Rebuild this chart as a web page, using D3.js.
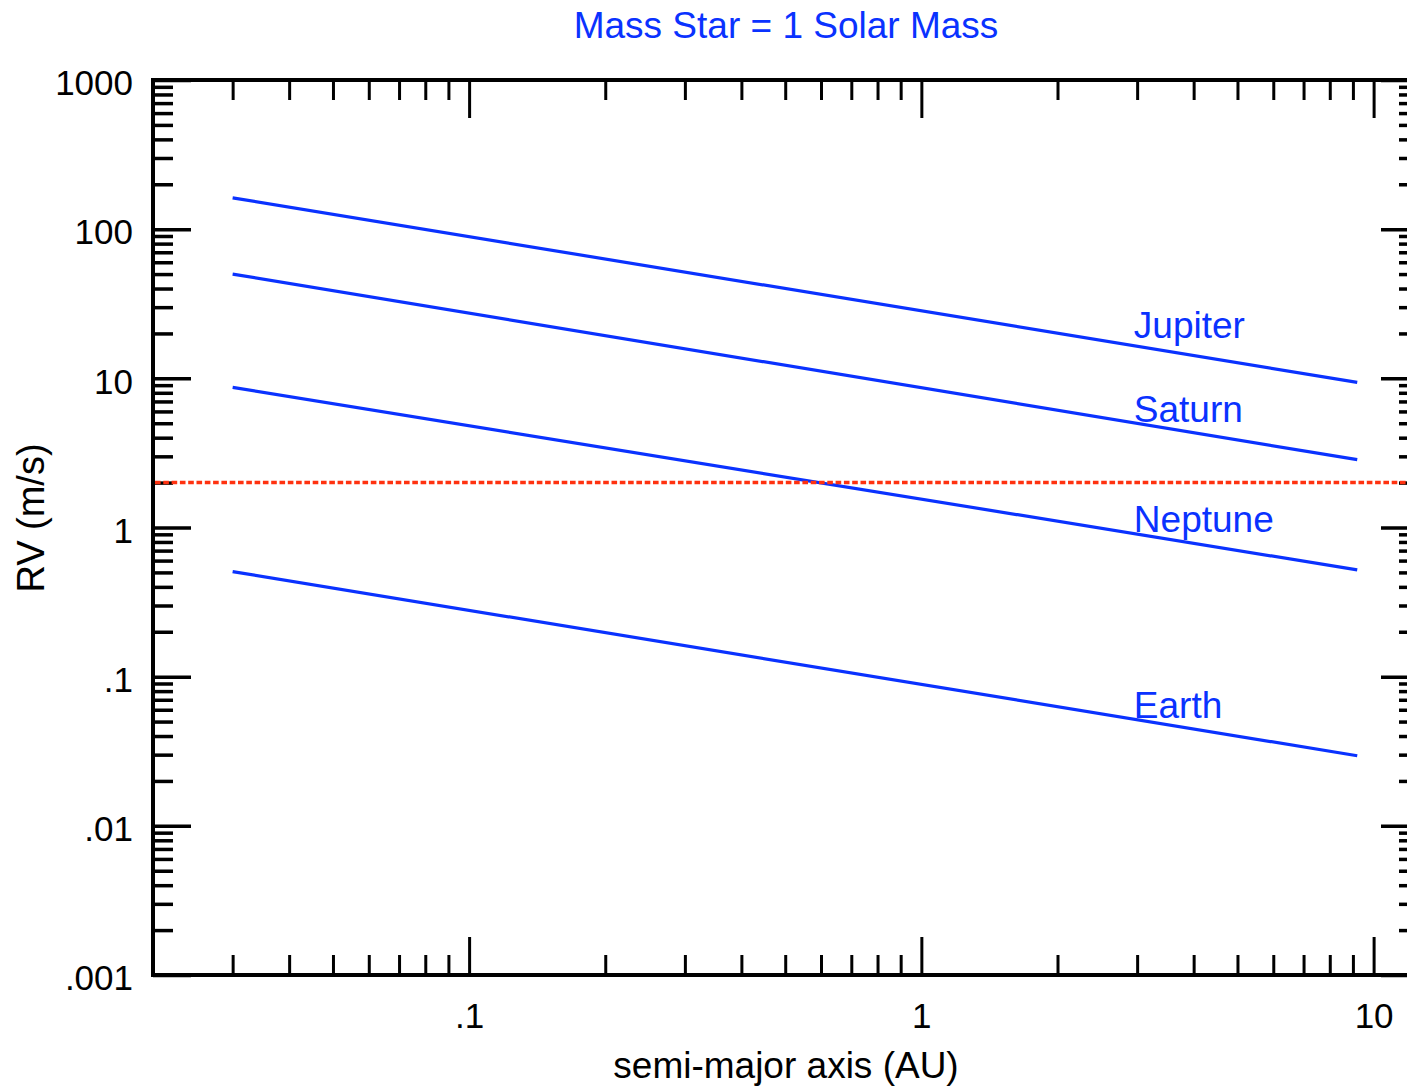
<!DOCTYPE html>
<html>
<head>
<meta charset="utf-8">
<script src="https://cdn.jsdelivr.net/npm/d3@7"></script>
<style>
  html, body { margin: 0; padding: 0; background: #fff; }
  svg { display: block; }
  text { font-family: "Liberation Sans", Arial, Helvetica, sans-serif; }
</style>
</head>
<body>
<script>
// Radial-velocity semi-amplitude vs. semi-major axis for solar-system planets
const planets = ["Jupiter", "Saturn", "Neptune", "Earth"];
// semi-major axis (AU) at the start and end of each curve
const aRange = [0.03, 9.2];
// RV (m/s) at those two semi-major axes
const rvJupiter = [162, 9.4];
const rvSaturn = [50, 2.85];
const rvNeptune = [8.7, 0.52];
const rvEarth = [0.506, 0.0295];
// detection threshold (m/s)
const rvLimit = 2;
// where the planet names sit along each curve (AU)
const labelA = 2.95;

const xTickValues = [0.1, 1, 10];
const xTickLabels = [".1", "1", "10"];
const yTickValues = [1000, 100, 10, 1, 0.1, 0.01, 0.001];
const yTickLabels = ["1000", "100", "10", "1", ".1", ".01", ".001"];

const titleText = "Mass Star = 1 Solar Mass";
const xTitle = "semi-major axis (AU)";
const yTitle = "RV (m/s)";

const series = [rvJupiter, rvSaturn, rvNeptune, rvEarth];

const W = 1407, H = 1090;
const plot = { left: 153, right: 1419, top: 80, bottom: 975 };
const blue = "#0a32ff";

const svg = d3.select("body").append("svg")
  .attr("width", W).attr("height", H);
svg.append("rect").attr("width", W).attr("height", H).attr("fill", "#fff");

const x = d3.scaleLog().domain([0.02, 12.6]).range([plot.left, plot.right]);
const y = d3.scaleLog().domain([0.001, 1000]).range([plot.bottom, plot.top]);

// minor tick positions: 2..9 within each decade
function minorTicks(lo, hi) {
  const out = [];
  for (let e = Math.floor(Math.log10(lo)); e < Math.ceil(Math.log10(hi)); e++) {
    for (let m = 2; m <= 9; m++) {
      const v = m * Math.pow(10, e);
      if (v > lo && v < hi) out.push(v);
    }
  }
  return out;
}
const xMinor = minorTicks(0.02, 12.6);
const yMinor = minorTicks(0.001, 1000);

const majorLen = 38, minorLen = 20;

function styleAxis(g, w) {
  g.select(".domain").remove();
  g.selectAll(".tick line").attr("stroke", "#000").attr("stroke-width", w);
}

// ticks on all four sides, pointing inward
const axes = svg.append("g");
axes.append("g").attr("transform", `translate(${plot.left},0)`)
  .call(d3.axisRight(y).tickValues(yTickValues).tickSize(majorLen).tickFormat(""))
  .call(g => styleAxis(g, 3.5));
axes.append("g").attr("transform", `translate(${plot.left},0)`)
  .call(d3.axisRight(y).tickValues(yMinor).tickSize(minorLen).tickFormat(""))
  .call(g => styleAxis(g, 3.5));
axes.append("g").attr("transform", `translate(${plot.right},0)`)
  .call(d3.axisLeft(y).tickValues(yTickValues).tickSize(majorLen).tickFormat(""))
  .call(g => styleAxis(g, 3.5));
axes.append("g").attr("transform", `translate(${plot.right},0)`)
  .call(d3.axisLeft(y).tickValues(yMinor).tickSize(minorLen).tickFormat(""))
  .call(g => styleAxis(g, 3.5));
axes.append("g").attr("transform", `translate(0,${plot.bottom})`)
  .call(d3.axisTop(x).tickValues(xTickValues).tickSize(majorLen).tickFormat(""))
  .call(g => styleAxis(g, 3));
axes.append("g").attr("transform", `translate(0,${plot.bottom})`)
  .call(d3.axisTop(x).tickValues(xMinor).tickSize(minorLen).tickFormat(""))
  .call(g => styleAxis(g, 3));
axes.append("g").attr("transform", `translate(0,${plot.top})`)
  .call(d3.axisBottom(x).tickValues(xTickValues).tickSize(majorLen).tickFormat(""))
  .call(g => styleAxis(g, 3));
axes.append("g").attr("transform", `translate(0,${plot.top})`)
  .call(d3.axisBottom(x).tickValues(xMinor).tickSize(minorLen).tickFormat(""))
  .call(g => styleAxis(g, 3));

// frame
svg.append("rect")
  .attr("x", plot.left).attr("y", plot.top)
  .attr("width", plot.right - plot.left).attr("height", plot.bottom - plot.top)
  .attr("fill", "none").attr("stroke", "#000").attr("stroke-width", 4);

// tick labels
const yLab = svg.append("g").attr("transform", `translate(${plot.left},0)`)
  .call(d3.axisLeft(y).tickValues(yTickValues).tickSize(0).tickPadding(20)
    .tickFormat((d, i) => yTickLabels[i]));
yLab.select(".domain").remove();
yLab.selectAll("text").attr("font-size", 35).attr("fill", "#000")
  .attr("font-family", "Liberation Sans, Arial, sans-serif").attr("dy", "0.42em");

const xLab = svg.append("g").attr("transform", `translate(0,${plot.bottom})`)
  .call(d3.axisBottom(x).tickValues(xTickValues).tickSize(0).tickPadding(28)
    .tickFormat((d, i) => xTickLabels[i]));
xLab.select(".domain").remove();
xLab.selectAll("text").attr("font-size", 35).attr("fill", "#000")
  .attr("font-family", "Liberation Sans, Arial, sans-serif");

// RV curves
const line = d3.line().x(d => x(d[0])).y(d => y(d[1]));
const curves = svg.append("g");
series.forEach(rv => {
  curves.append("path")
    .datum(aRange.map((a, i) => [a, rv[i]]))
    .attr("d", line)
    .attr("fill", "none")
    .attr("stroke", blue)
    .attr("stroke-width", 3.2);
});

// detection limit
svg.append("line")
  .attr("x1", plot.left + 2).attr("x2", plot.right)
  .attr("y1", y(rvLimit)).attr("y2", y(rvLimit))
  .attr("stroke", "#ff3210").attr("stroke-width", 3.5)
  .attr("stroke-dasharray", "5.6 2.7");

// planet names, just above their curves
const labelLift = [8, 1, 2, 1];
series.forEach((rv, i) => {
  const t = Math.log(labelA / aRange[0]) / Math.log(aRange[1] / aRange[0]);
  const rvAt = Math.exp(Math.log(rv[0]) + t * (Math.log(rv[1]) - Math.log(rv[0])));
  svg.append("text")
    .attr("x", x(labelA))
    .attr("y", y(rvAt) - labelLift[i])
    .attr("font-size", 37)
    .attr("fill", blue)
    .text(planets[i]);
});

// titles
const cx = (plot.left + plot.right) / 2;
svg.append("text")
  .attr("x", cx).attr("y", 38)
  .attr("text-anchor", "middle")
  .attr("font-size", 37)
  .attr("fill", blue)
  .text(titleText);

svg.append("text")
  .attr("x", cx).attr("y", 1078)
  .attr("text-anchor", "middle")
  .attr("font-size", 37)
  .attr("fill", "#000")
  .text(xTitle);

svg.append("text")
  .attr("transform", `translate(44,518) rotate(-90)`)
  .attr("text-anchor", "middle")
  .attr("font-size", 38)
  .attr("fill", "#000")
  .text(yTitle);
</script>
</body>
</html>
